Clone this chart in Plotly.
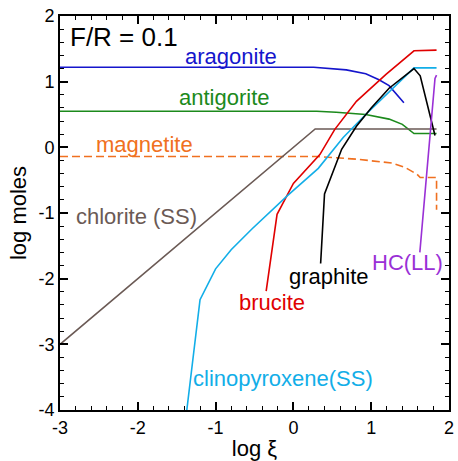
import plotly.graph_objects as go

# ---- data ----
aragonite_x = [-3, 0.26, 0.68, 0.93, 1.10, 1.23, 1.42]
aragonite_y = [1.22, 1.22, 1.18, 1.12, 1.03, 0.94, 0.68]

antigorite_x = [-3, 0.30, 0.55, 0.93, 1.23, 1.40, 1.55, 1.84]
antigorite_y = [0.55, 0.55, 0.535, 0.50, 0.43, 0.35, 0.21, 0.21]

magnetite_x = [-3, 0.30, 0.81, 1.27, 1.44, 1.59, 1.63, 1.84, 1.84]
magnetite_y = [-0.14, -0.14, -0.18, -0.24, -0.31, -0.41, -0.46, -0.46, -0.95]

chlorite_x = [-3, 0.28, 1.84]
chlorite_y = [-3, 0.28, 0.28]

brucite_x = [-0.35, -0.21, 0.0, 0.34, 0.53, 0.81, 1.19, 1.55, 1.84]
brucite_y = [-2.19, -1.02, -0.55, -0.11, 0.27, 0.70, 1.11, 1.47, 1.48]

cpx_x = [-1.37, -1.20, -1.00, -0.80, -0.53, -0.08, 0.32, 0.64, 0.93, 1.55, 1.84]
cpx_y = [-4.0, -2.32, -1.85, -1.56, -1.24, -0.74, -0.32, 0.15, 0.50, 1.21, 1.21]

graphite_x = [0.35, 0.40, 0.62, 0.81, 1.00, 1.23, 1.55, 1.63, 1.82]
graphite_y = [-1.77, -0.71, -0.03, 0.32, 0.60, 0.90, 1.20, 1.09, 0.18]

hc_x = [1.625, 1.82, 1.84]
hc_y = [-1.60, 1.05, 1.10]

labels = ["aragonite", "antigorite", "magnetite", "chlorite (SS)", "brucite",
          "clinopyroxene(SS)", "graphite", "HC(LL)"]
label_x = [-0.80, -0.88, -1.92, -2.02, -0.28, -0.13, 0.46, 1.47]
label_y = [1.38, 0.76, 0.05, -1.06, -2.36, -3.52, -1.97, -1.75]

x_ticks = [-3, -2, -1, 0, 1, 2]
y_ticks = [-4, -3, -2, -1, 0, 1, 2]

# ---- styling ----
colors = {
    "aragonite": "#1515CC",
    "antigorite": "#1C8A1C",
    "magnetite": "#F07020",
    "chlorite (SS)": "#6B5A55",
    "brucite": "#E00000",
    "clinopyroxene(SS)": "#12AEE8",
    "graphite": "#000000",
    "HC(LL)": "#9A30D6",
}

series = [
    ("aragonite", aragonite_x, aragonite_y, "solid"),
    ("antigorite", antigorite_x, antigorite_y, "solid"),
    ("magnetite", magnetite_x, magnetite_y, "8px,4px"),
    ("chlorite (SS)", chlorite_x, chlorite_y, "solid"),
    ("brucite", brucite_x, brucite_y, "solid"),
    ("clinopyroxene(SS)", cpx_x, cpx_y, "solid"),
    ("graphite", graphite_x, graphite_y, "solid"),
    ("HC(LL)", hc_x, hc_y, "solid"),
]

FONT = "Liberation Sans, Arial, sans-serif"

fig = go.Figure()
for name, xs, ys, dash in series:
    fig.add_trace(go.Scatter(x=xs, y=ys, mode="lines", name=name,
                             line=dict(color=colors[name], width=1.6, dash=dash),
                             showlegend=False))

for t, lx, ly in zip(labels, label_x, label_y):
    fig.add_annotation(x=lx, y=ly, text=t, showarrow=False, xref="x", yref="y",
                       xanchor="center", yanchor="middle",
                       font=dict(family=FONT, size=22, color=colors[t]))

fig.add_annotation(x=0.02, y=0.99, xref="paper", yref="paper", text="F/R = 0.1",
                   showarrow=False, xanchor="left", yanchor="top",
                   font=dict(family=FONT, size=26, color="black"))

axis_common = dict(
    showgrid=False, zeroline=False, showline=True, linecolor="black", linewidth=1.8,
    mirror="allticks", ticks="inside", ticklen=8, tickwidth=1.5, tickcolor="black",
    tickfont=dict(family=FONT, size=18, color="black"),
    minor=dict(ticks="inside", ticklen=4, tickwidth=1.2, tickcolor="black", dtick=0.2, showgrid=False),
)

fig.update_xaxes(range=[-3, 2], tickvals=x_ticks, ticktext=[str(v) for v in x_ticks],
                 title=dict(text="log ξ", font=dict(family=FONT, size=22, color="black"), standoff=4),
                 **axis_common)
fig.update_yaxes(range=[-4, 2], tickvals=y_ticks, ticktext=[str(v) for v in y_ticks],
                 title=dict(text="log moles", font=dict(family=FONT, size=22, color="black"), standoff=6),
                 **axis_common)

fig.update_layout(
    width=458, height=461,
    margin=dict(l=60, r=4, t=16, b=49),
    plot_bgcolor="white", paper_bgcolor="white",
    showlegend=False,
)

fig.write_html("out.html")
